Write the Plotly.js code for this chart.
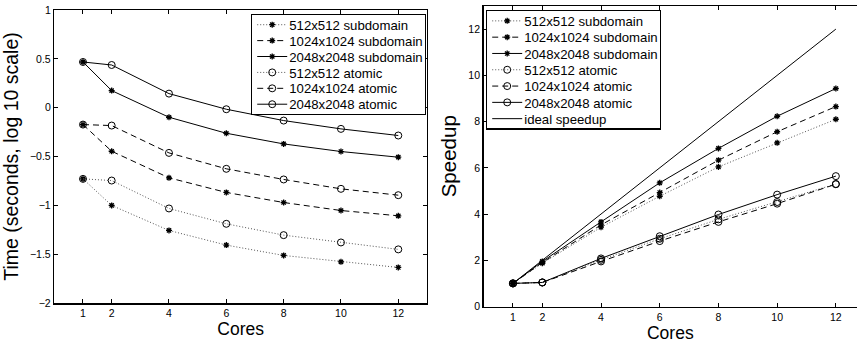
<!DOCTYPE html>
<html>
<head>
<meta charset="utf-8">
<script src="https://cdn.plot.ly/plotly-3.0.1.min.js"></script>
<style>html,body{margin:0;padding:0;background:#fff;}#chart{width:857px;height:343px;}</style>
</head>
<body>
<div id="chart"></div>
<script>
// ---- data ----
const cores = [1, 2, 4, 6, 8, 10, 12];
const seriesNames = ["512x512 subdomain", "1024x1024 subdomain", "2048x2048 subdomain",
                     "512x512 atomic", "1024x1024 atomic", "2048x2048 atomic"];
// Left: time (seconds, log10 scale)
const time512sub   = [-0.729, -1.001, -1.257, -1.407, -1.513, -1.578, -1.636];
const time1024sub  = [-0.173, -0.446, -0.718, -0.868, -0.971, -1.053, -1.107];
const time2048sub  = [0.468, 0.175, -0.098, -0.262, -0.371, -0.449, -0.507];
const time512at    = [-0.729, -0.746, -1.032, -1.189, -1.305, -1.380, -1.451];
const time1024at   = [-0.173, -0.183, -0.463, -0.626, -0.735, -0.831, -0.896];
const time2048at   = [0.468, 0.437, 0.144, -0.016, -0.132, -0.217, -0.285];
// Right: speedup
const sp512sub  = [1, 1.87, 3.43, 4.77, 6.04, 7.08, 8.10];
const sp1024sub = [1, 1.90, 3.53, 4.93, 6.33, 7.56, 8.65];
const sp2048sub = [1, 1.95, 3.66, 5.35, 6.84, 8.23, 9.43];
const sp512at   = [1, 1.04, 2.02, 2.93, 3.77, 4.52, 5.30];
const sp1024at  = [1, 1.04, 1.95, 2.83, 3.66, 4.45, 5.29];
const sp2048at  = [1, 1.04, 2.08, 3.04, 3.98, 4.84, 5.64];
const idealX = [1, 12];
const idealY = [1, 12];
const idealName = "ideal speedup";

const leftY = [time512sub, time1024sub, time2048sub, time512at, time1024at, time2048at];
const rightY = [sp512sub, sp1024sub, sp2048sub, sp512at, sp1024at, sp2048at];

// ---- styles ----
const dashes = ["1px,2px", "6px,4px", "solid", "1px,2px", "6px,4px", "solid"];
const lineColors = ["#555", "#000", "#000", "#555", "#000", "#000"];
const markerSym = ["asterisk-open", "asterisk-open", "asterisk-open", "circle-open", "circle-open", "circle-open"];
const markerSize = [5, 5, 5, 7, 7, 7];

const traces = [];
function mk(i, xa, ya, lg, ys) {
  return {
    x: cores, y: ys[i], name: seriesNames[i], type: "scatter", mode: "lines+markers",
    xaxis: xa, yaxis: ya, legend: lg,
    line: {color: lineColors[i], width: 1, dash: dashes[i]},
    marker: {symbol: markerSym[i], size: markerSize[i], color: "#000",
             line: {color: "#000", width: i < 3 ? 1.3 : 1}}
  };
}
for (let i = 0; i < 6; i++) traces.push(mk(i, "x", "y", "legend", leftY));
for (let i = 0; i < 6; i++) traces.push(mk(i, "x2", "y2", "legend2", rightY));
traces.push({
  x: idealX, y: idealY, name: idealName, type: "scatter", mode: "lines",
  xaxis: "x2", yaxis: "y2", legend: "legend2",
  line: {color: "#000", width: 1}
});

const font = "Liberation Sans, Arial, sans-serif";
const axCommon = {
  showgrid: false, zeroline: false, showline: true, linecolor: "#000", linewidth: 1.5,
  ticks: "inside", ticklen: 4, tickcolor: "#000", tickwidth: 1,
  tickfont: {family: font, size: 10.5, color: "#000"}, automargin: false
};

const legendCommon = {
  bgcolor: "#fff", bordercolor: "#000", borderwidth: 1.2,
  font: {family: font, size: 13.2, color: "#000"},
  xanchor: "left", yanchor: "top", tracegroupgap: 0, itemwidth: 30
};

const layout = {
  width: 857, height: 343,
  margin: {l: 0, r: 0, t: 0, b: 0},
  paper_bgcolor: "#fff", plot_bgcolor: "#fff",
  showlegend: true,
  xaxis: Object.assign({}, axCommon, {
    domain: [0.0634, 0.4982], range: [0, 13], tickvals: cores, mirror: "ticks", anchor: "y",
    title: {text: "Cores", font: {family: font, size: 17.5, color: "#000"}, standoff: 2}
  }),
  yaxis: Object.assign({}, axCommon, {
    domain: [0.1166, 0.9708], range: [-2, 1], dtick: 0.5, mirror: "ticks", anchor: "x",
    title: {text: "Time (seconds, log 10 scale)", font: {family: font, size: 19.5, color: "#000"}, standoff: 6}
  }),
  xaxis2: Object.assign({}, axCommon, {
    domain: [0.5643, 1], range: [0, 12.72], tickvals: cores, mirror: "ticks", anchor: "y2",
    title: {text: "Cores", font: {family: font, size: 17.5, color: "#000"}, standoff: 2}
  }),
  yaxis2: Object.assign({}, axCommon, {
    domain: [0.1064, 0.9825], range: [0, 13], dtick: 2, mirror: false, anchor: "x2",
    title: {text: "Speedup", font: {family: font, size: 20.5, color: "#000"}, standoff: 6}
  }),
  legend: Object.assign({}, legendCommon, {x: 0.2929, y: 0.959}),
  legend2: Object.assign({}, legendCommon, {x: 0.5671, y: 0.9708})
};

// tighten legend rows/padding to match the compact reference legends
function squeezeLegend(cls, spacing, pad, bw, textX) {
  const g = document.querySelector("g." + cls);
  if (!g) return;
  const items = g.querySelectorAll("g.traces");
  let maxRight = 0;
  items.forEach((t, i) => {
    const tr = t.getAttribute("transform") || "";
    const m = /translate\(\s*([-\d.eE]+)[ ,]+([-\d.eE]+)\s*\)/.exec(tr);
    const x = m ? parseFloat(m[1]) : 0;
    t.setAttribute("transform", "translate(" + x + "," + (bw + pad + spacing * (i + 0.5)) + ")");
    const txt = t.querySelector("text.legendtext") || t.querySelector("text");
    if (txt) {
      txt.setAttribute("x", textX);
      let w = 0;
      try { w = txt.getComputedTextLength(); } catch (e) { w = txt.getBBox().width; }
      maxRight = Math.max(maxRight, x + textX + w);
    }
  });
  const bg = g.querySelector("rect.bg");
  if (bg) {
    bg.setAttribute("height", items.length * spacing + 2 * pad + bw);
    if (maxRight > 0) bg.setAttribute("width", maxRight + 2);
  }
}

Plotly.newPlot("chart", traces, layout, {displayModeBar: false, staticPlot: true}).then(() => {
  try { squeezeLegend("legend", 15.9, 1.5, 1.2, 37); } catch (e) {}
  try { squeezeLegend("legend2", 16.3, 1.5, 1.2, 37); } catch (e) {}
});
</script>
</body>
</html>
